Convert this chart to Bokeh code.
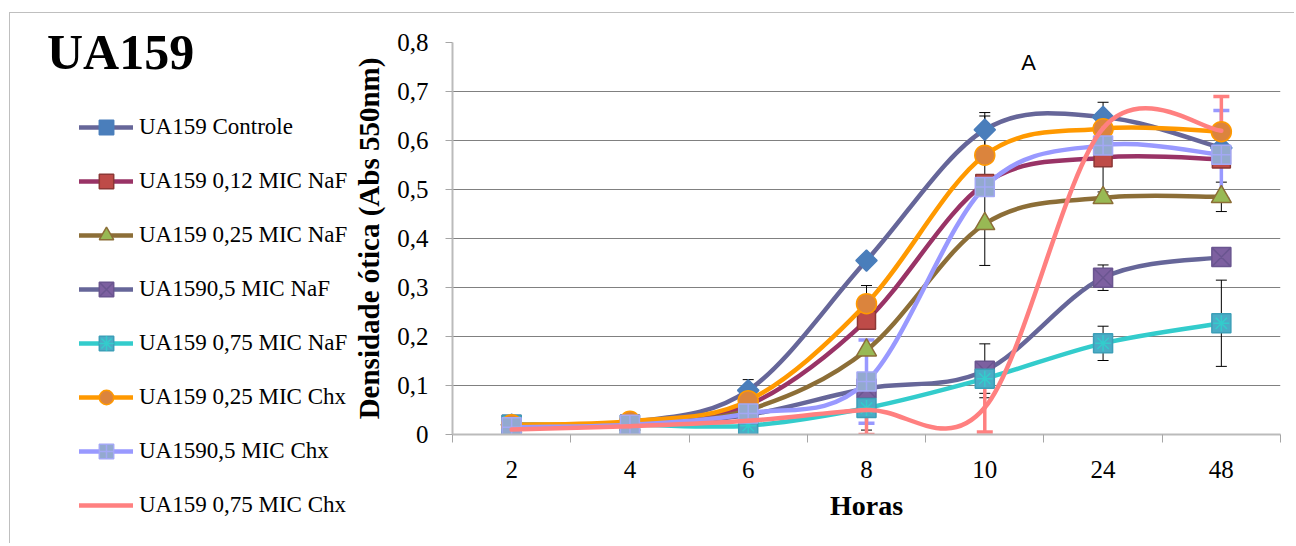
from bokeh.plotting import figure
from bokeh.layouts import row
from bokeh.models import (FixedTicker, Legend, LegendItem, Label, Whisker,
                          ColumnDataSource, TeeHead, Range1d, Div)
from bokeh.embed import file_html
from bokeh.resources import INLINE

# ---------------- data ----------------
title_text = "UA159"
categories = ["2", "4", "6", "8", "10", "24", "48"]
y_ticks = [0.0, 0.1, 0.2, 0.3, 0.4, 0.5, 0.6, 0.7, 0.8]
y_tick_labels = ["0", "0,1", "0,2", "0,3", "0,4", "0,5", "0,6", "0,7", "0,8"]

names = ["UA159 Controle", "UA159 0,12 MIC NaF", "UA159 0,25 MIC NaF",
         "UA1590,5 MIC NaF", "UA159 0,75 MIC NaF", "UA159 0,25 MIC Chx",
         "UA1590,5 MIC Chx", "UA159 0,75 MIC Chx"]

controle = [0.020, 0.025, 0.090, 0.355, 0.622, 0.648, 0.585]
naf_012  = [0.020, 0.022, 0.060, 0.233, 0.512, 0.565, 0.562]
naf_025  = [0.015, 0.020, 0.050, 0.172, 0.430, 0.483, 0.485]
naf_05   = [0.020, 0.020, 0.040, 0.094, 0.130, 0.320, 0.362]
naf_075  = [0.020, 0.020, 0.018, 0.054, 0.114, 0.186, 0.227]
chx_025  = [0.020, 0.027, 0.069, 0.267, 0.570, 0.624, 0.618]
chx_05   = [0.015, 0.020, 0.043, 0.108, 0.505, 0.590, 0.571]
chx_075  = [0.010, 0.017, 0.028, 0.050, 0.055, 0.625, 0.620]

err_controle = [0, 0, 0.022, 0, 0.035, 0.030, 0]
err_naf_012  = [0, 0, 0, 0, 0, 0.070, 0]
err_naf_025  = [0, 0, 0, 0, 0.085, 0, 0.030]
err_naf_05   = [0, 0, 0, 0, 0.055, 0.026, 0]
err_naf_075  = [0, 0, 0, 0.045, 0.030, 0.035, 0.088]
err_chx_025  = [0, 0, 0, 0.037, 0.080, 0, 0]
err_chx_05   = [0, 0, 0, 0.085, 0, 0, 0.090]
err_chx_075  = [0, 0, 0, 0.050, 0.050, 0, 0.070]

values = [controle, naf_012, naf_025, naf_05, naf_075, chx_025, chx_05, chx_075]
errors = [err_controle, err_naf_012, err_naf_025, err_naf_05, err_naf_075,
          err_chx_025, err_chx_05, err_chx_075]

# ---------------- styles ----------------
line_colors = ["#666699", "#993366", "#8C6E37", "#666699", "#33CCCC",
               "#FF9900", "#9999FF", "#FF8080"]
markers = [
    [dict(marker="square", angle=0.7854, size=15, fill_color="#4A7EBB", line_color="#4A7EBB")],
    [dict(marker="square", size=18, fill_color="#BE4B48", line_color="#8C3836")],
    [dict(marker="triangle", size=20, fill_color="#98B954", line_color="#8C6E37")],
    [dict(marker="square_x", size=19, fill_color="#7D60A0", line_color="#6A5590")],
    [dict(marker="square", size=19, fill_color="#4BACC6", line_color="#3C9FB8"),
     dict(marker="asterisk", size=16, fill_color=None, line_color="#33CCCC")],
    [dict(marker="circle", size=20, fill_color="#DB843D", line_color="#FF9900")],
    [dict(marker="square_cross", size=19, fill_color="#93A9CF", line_color="#A3A8F5")],
    [],
]
err_styles = [dict(color="black", width=1, head=11)] * 6 + [
    dict(color="#9999FF", width=3.5, head=16),
    dict(color="#FF8080", width=3.5, head=16)]

SERIF = "Liberation Serif"
H = 530
xs = list(range(1, len(categories) + 1))

# ---------------- left part: legend ----------------
side = figure(width=340, height=H, output_backend="svg", toolbar_location=None,
              x_axis_location=None, y_axis_location=None,
              x_range=Range1d(-2, -1), y_range=Range1d(-2, -1), min_border=0)
side.outline_line_color = None
side.grid.visible = False

# ---------------- main chart ----------------
p = figure(width=944, height=H, output_backend="svg", toolbar_location=None,
           x_range=Range1d(0.5, len(categories) + 0.5), y_range=Range1d(0, 0.8),
           min_border_left=99, min_border_right=14, min_border_top=29,
           min_border_bottom=109)
p.outline_line_color = None

for fig in (side, p):
    try:
        fig.frame_align = False
    except AttributeError:
        pass


def smooth_segments(x, y):
    n = len(x)
    seg = dict(x0=[], y0=[], x1=[], y1=[], cx0=[], cy0=[], cx1=[], cy1=[])
    for i in range(n - 1):
        a = max(i - 1, 0)
        d = min(i + 2, n - 1)
        seg["x0"].append(x[i]); seg["y0"].append(y[i])
        seg["x1"].append(x[i + 1]); seg["y1"].append(y[i + 1])
        seg["cx0"].append(x[i] + (x[i + 1] - x[a]) / 6)
        seg["cy0"].append(y[i] + (y[i + 1] - y[a]) / 6)
        seg["cx1"].append(x[i + 1] - (x[d] - x[i]) / 6)
        seg["cy1"].append(y[i + 1] - (y[d] - y[i]) / 6)
    return seg


legend_items = []
for name, vals, errs, lc, mks, es in zip(names, values, errors, line_colors,
                                         markers, err_styles):
    p.bezier(source=ColumnDataSource(smooth_segments(xs, vals)),
             x0="x0", y0="y0", x1="x1", y1="y1", cx0="cx0", cy0="cy0",
             cx1="cx1", cy1="cy1", line_color=lc, line_width=4.5,
             line_cap="round")
    ex = [x for x, e in zip(xs, errs) if e > 0]
    if ex:
        ev = [v for v, e in zip(vals, errs) if e > 0]
        ee = [e for e in errs if e > 0]
        src = ColumnDataSource(dict(x=ex, up=[v + e for v, e in zip(ev, ee)],
                                    lo=[v - e for v, e in zip(ev, ee)]))
        p.add_layout(Whisker(base="x", upper="up", lower="lo", source=src,
                             dimension="height", line_color=es["color"],
                             line_width=es["width"],
                             upper_head=TeeHead(size=es["head"], line_color=es["color"],
                                                line_width=es["width"]),
                             lower_head=TeeHead(size=es["head"], line_color=es["color"],
                                                line_width=es["width"])))
    for mk in mks:
        p.scatter(x=xs, y=vals, line_width=1.5, **mk)
    # legend swatches: same series and styles, drawn in the legend panel
    rends = [side.line(x=xs, y=vals, line_color=lc, line_width=4.5, line_cap="round")]
    for mk in mks:
        rends.append(side.scatter(x=xs, y=vals, line_width=1.5, **mk))
    legend_items.append(LegendItem(label=name, renderers=rends))

legend = Legend(items=legend_items, location=(69, 20),
                glyph_width=54, glyph_height=36, label_standoff=6,
                spacing=18, padding=0, margin=0,
                label_text_font=SERIF, label_text_font_size="23px",
                label_text_color="black",
                background_fill_alpha=0, border_line_color=None)
side.add_layout(legend)

# ---------------- axes ----------------
xa = p.xaxis[0]
xa.ticker = FixedTicker(ticks=xs, minor_ticks=[x - 0.5 for x in xs] + [xs[-1] + 0.5])
xa.major_label_overrides = {x: c for x, c in zip(xs, categories)}
xa.major_tick_out = 0
xa.major_tick_in = 0
xa.minor_tick_out = 8
xa.minor_tick_in = 0
xa.minor_tick_line_color = "#A6A6A6"
xa.axis_line_color = "#BBBBBB"
xa.axis_line_width = 2
xa.major_label_standoff = 18
xa.major_label_text_font = SERIF
xa.major_label_text_font_size = "25px"
xa.major_label_text_color = "black"
xa.axis_label = "Horas"
xa.axis_label_text_font = SERIF
xa.axis_label_text_font_style = "bold"
xa.axis_label_text_font_size = "28px"
xa.axis_label_text_color = "black"
xa.axis_label_standoff = 9

ya = p.yaxis[0]
ya.ticker = FixedTicker(ticks=y_ticks, minor_ticks=[])
ya.major_label_overrides = {t: l for t, l in zip(y_ticks, y_tick_labels)}
ya.major_tick_out = 7
ya.major_tick_in = 0
ya.major_tick_line_color = "#A6A6A6"
ya.axis_line_color = "#BBBBBB"
ya.axis_line_width = 2
ya.major_label_standoff = 17
ya.major_label_text_font = SERIF
ya.major_label_text_font_size = "25px"
ya.major_label_text_color = "black"
ya.axis_label = "Densidade ótica (Abs 550nm)"
ya.axis_label_text_font = SERIF
ya.axis_label_text_font_style = "bold"
ya.axis_label_text_font_size = "29px"
ya.axis_label_text_color = "black"
ya.axis_label_standoff = 9

p.xgrid.visible = False
p.ygrid.ticker = FixedTicker(ticks=y_ticks[1:], minor_ticks=[])
p.ygrid.grid_line_color = "#808080"
p.ygrid.grid_line_width = 1

p.add_layout(Label(x=5.37, y=0.759, text="A", text_font="Liberation Sans",
                   text_font_size="22px", text_color="black",
                   text_align="center", text_baseline="middle"))

title_div = Div(text=title_text,
                styles={"position": "absolute", "left": "32px", "top": "9px",
                        "font-family": SERIF, "font-weight": "bold",
                        "font-size": "50px", "line-height": "1",
                        "color": "black", "z-index": "10",
                        "white-space": "nowrap"})

layout = row(side, p, title_div)
layout.styles = {"margin-left": "9px", "margin-top": "12px",
                 "border-top": "1px solid #BFBFBF", "border-left": "1px solid #BFBFBF",
                 "position": "relative"}

open("out.html", "w").write(file_html(layout, INLINE))
